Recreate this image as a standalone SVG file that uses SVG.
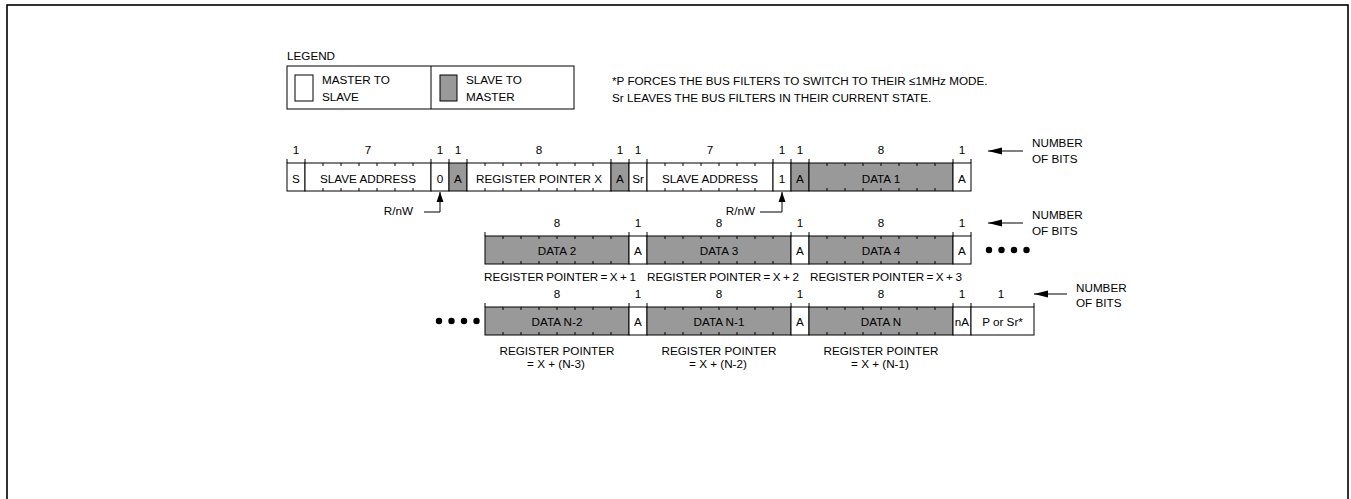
<svg xmlns="http://www.w3.org/2000/svg" width="1351" height="499" viewBox="0 0 1351 499">
<style>
text{font-family:"Liberation Sans",Arial,sans-serif;font-size:11.7px;fill:#000}
.c{text-anchor:middle}
.r{text-anchor:end}
.w{fill:#fff;stroke:#000;stroke-width:1}
.g{fill:#999;stroke:#000;stroke-width:1}
.t{fill:none;stroke:#000;stroke-width:1}
.ln{fill:none;stroke:#000;stroke-width:1}
.dot{fill:#000}
.rp{word-spacing:-0.8px}
</style>
<defs>
<marker id="ah" viewBox="0 0 10 10" refX="10" refY="5" markerWidth="10" markerHeight="10" markerUnits="userSpaceOnUse" orient="auto"><path d="M0,1.5L10,5L0,8.5Z" fill="#000"/></marker>
<marker id="ahL" viewBox="0 0 14 8" refX="14" refY="4" markerWidth="14" markerHeight="8" markerUnits="userSpaceOnUse" orient="auto"><path d="M0,0.5L14,4L0,7.5Z" fill="#000"/></marker>
</defs>
<rect x="7" y="5" width="1341" height="600" fill="none" stroke="#000" stroke-width="1.6"/>

<g id="legend">
<text x="287" y="60">LEGEND</text>
<rect x="287" y="66" width="287" height="43" fill="#fff" stroke="#000" stroke-width="1"/>
<line x1="431" y1="66" x2="431" y2="109" stroke="#000" stroke-width="1"/>
<rect x="295" y="75" width="18" height="26" class="w"/>
<text x="322" y="83.5">MASTER TO</text>
<text x="322" y="100.5">SLAVE</text>
<rect x="440" y="75" width="17" height="26" class="g"/>
<text x="466" y="83.5">SLAVE TO</text>
<text x="466" y="100.5">MASTER</text>
</g>
<g id="note">
<text x="612" y="85">*P FORCES THE BUS FILTERS TO SWITCH TO THEIR ≤1MHz MODE.</text>
<text x="612" y="101.5">Sr LEAVES THE BUS FILTERS IN THEIR CURRENT STATE.</text>
</g>

<!-- Row 1 -->
<g id="row1-bits">
<text class="c" x="296" y="154">1</text>
<text class="c" x="368" y="154">7</text>
<text class="c" x="440" y="154">1</text>
<text class="c" x="458" y="154">1</text>
<text class="c" x="539" y="154">8</text>
<text class="c" x="620" y="154">1</text>
<text class="c" x="638" y="154">1</text>
<text class="c" x="710" y="154">7</text>
<text class="c" x="782" y="154">1</text>
<text class="c" x="800" y="154">1</text>
<text class="c" x="881" y="154">8</text>
<text class="c" x="962" y="154">1</text>
</g>
<g id="r1-s"><rect class="w" x="287" y="163" width="18" height="28"/><text class="c" x="296" y="182.5">S</text></g>
<g id="r1-addr"><rect class="w" x="305" y="163" width="126" height="28"/><path class="t" d="M323 163v3M341 163v3M359 163v3M377 163v3M395 163v3M413 163v3M323 191v-3M341 191v-3M359 191v-3M377 191v-3M395 191v-3M413 191v-3"/><text class="c" x="368" y="182.5">SLAVE ADDRESS</text></g>
<g id="r1-rw"><rect class="w" x="431" y="163" width="18" height="28"/><text class="c" x="440" y="182.5">0</text></g>
<g id="r1-a1"><rect class="g" x="449" y="163" width="18" height="28"/><text class="c" x="458" y="182.5">A</text></g>
<g id="r1-reg"><rect class="w" x="467" y="163" width="144" height="28"/><path class="t" d="M485 163v3M503 163v3M521 163v3M539 163v3M557 163v3M575 163v3M593 163v3M485 191v-3M503 191v-3M521 191v-3M539 191v-3M557 191v-3M575 191v-3M593 191v-3"/><text class="c" x="539" y="182.5">REGISTER POINTER X</text></g>
<g id="r1-a2"><rect class="g" x="611" y="163" width="18" height="28"/><text class="c" x="620" y="182.5">A</text></g>
<g id="r1-sr"><rect class="w" x="629" y="163" width="18" height="28"/><text class="c" x="638" y="182.5">Sr</text></g>
<g id="r1-addr2"><rect class="w" x="647" y="163" width="126" height="28"/><path class="t" d="M665 163v3M683 163v3M701 163v3M719 163v3M737 163v3M755 163v3M665 191v-3M683 191v-3M701 191v-3M719 191v-3M737 191v-3M755 191v-3"/><text class="c" x="710" y="182.5">SLAVE ADDRESS</text></g>
<g id="r1-rw2"><rect class="w" x="773" y="163" width="18" height="28"/><text class="c" x="782" y="182.5">1</text></g>
<g id="r1-a3"><rect class="g" x="791" y="163" width="18" height="28"/><text class="c" x="800" y="182.5">A</text></g>
<g id="r1-data1"><rect class="g" x="809" y="163" width="144" height="28"/><path class="t" d="M827 163v3M845 163v3M863 163v3M881 163v3M899 163v3M917 163v3M935 163v3M827 191v-3M845 191v-3M863 191v-3M881 191v-3M899 191v-3M917 191v-3M935 191v-3"/><text class="c" x="881" y="182.5">DATA 1</text></g>
<g id="r1-a4"><rect class="w" x="953" y="163" width="18" height="28"/><text class="c" x="962" y="182.5">A</text></g>
<path class="t" d="M287 159v4M305 159v4M431 159v4M449 159v4M467 159v4M611 159v4M629 159v4M647 159v4M773 159v4M791 159v4M809 159v4M953 159v4M971 159v4"/>
<g id="r1-nb"><text x="1032" y="147">NUMBER</text><text x="1032" y="163">OF BITS</text></g>
<g id="r1-rwlabel1"><text class="r" x="413" y="215">R/nW</text></g>
<g id="r1-rwlabel2"><text class="r" x="755" y="215">R/nW</text></g>

<!-- Row 2 -->
<g id="row2-bits">
<text class="c" x="557" y="227">8</text>
<text class="c" x="638" y="227">1</text>
<text class="c" x="719" y="227">8</text>
<text class="c" x="800" y="227">1</text>
<text class="c" x="881" y="227">8</text>
<text class="c" x="962" y="227">1</text>
</g>
<g id="r2-data2"><rect class="g" x="485" y="236" width="144" height="28"/><path class="t" d="M503 236v3M521 236v3M539 236v3M557 236v3M575 236v3M593 236v3M611 236v3M503 264v-3M521 264v-3M539 264v-3M557 264v-3M575 264v-3M593 264v-3M611 264v-3"/><text class="c" x="557" y="255">DATA 2</text></g>
<g id="r2-a1"><rect class="w" x="629" y="236" width="18" height="28"/><text class="c" x="638" y="255">A</text></g>
<g id="r2-data3"><rect class="g" x="647" y="236" width="144" height="28"/><path class="t" d="M665 236v3M683 236v3M701 236v3M719 236v3M737 236v3M755 236v3M773 236v3M665 264v-3M683 264v-3M701 264v-3M719 264v-3M737 264v-3M755 264v-3M773 264v-3"/><text class="c" x="719" y="255">DATA 3</text></g>
<g id="r2-a2"><rect class="w" x="791" y="236" width="18" height="28"/><text class="c" x="800" y="255">A</text></g>
<g id="r2-data4"><rect class="g" x="809" y="236" width="144" height="28"/><path class="t" d="M827 236v3M845 236v3M863 236v3M881 236v3M899 236v3M917 236v3M935 236v3M827 264v-3M845 264v-3M863 264v-3M881 264v-3M899 264v-3M917 264v-3M935 264v-3"/><text class="c" x="881" y="255">DATA 4</text></g>
<g id="r2-a3"><rect class="w" x="953" y="236" width="18" height="28"/><text class="c" x="962" y="255">A</text></g>
<path class="t" d="M485 232v4M629 232v4M647 232v4M791 232v4M809 232v4M953 232v4M971 232v4"/>
<g id="r2-dots"><circle class="dot" cx="989" cy="250" r="3.2"/><circle class="dot" cx="1001.5" cy="250" r="3.2"/><circle class="dot" cx="1014" cy="250" r="3.2"/><circle class="dot" cx="1026.5" cy="250" r="3.2"/></g>
<g id="r2-labels">
<text class="rp" x="484" y="281">REGISTER POINTER = X + 1</text>
<text class="rp" x="647" y="281">REGISTER POINTER = X + 2</text>
<text class="rp" x="810" y="281">REGISTER POINTER = X + 3</text>
</g>
<g id="r2-nb"><text x="1032" y="219">NUMBER</text><text x="1032" y="235">OF BITS</text></g>

<!-- Row 3 -->
<g id="row3-bits">
<text class="c" x="557" y="298">8</text>
<text class="c" x="638" y="298">1</text>
<text class="c" x="719" y="298">8</text>
<text class="c" x="800" y="298">1</text>
<text class="c" x="881" y="298">8</text>
<text class="c" x="962" y="298">1</text>
<text class="c" x="1001" y="298">1</text>
</g>
<g id="r3-dots"><circle class="dot" cx="439" cy="321" r="3.2"/><circle class="dot" cx="451.5" cy="321" r="3.2"/><circle class="dot" cx="464" cy="321" r="3.2"/><circle class="dot" cx="476.5" cy="321" r="3.2"/></g>
<g id="r3-datan2"><rect class="g" x="485" y="307" width="144" height="28"/><path class="t" d="M503 307v3M521 307v3M539 307v3M557 307v3M575 307v3M593 307v3M611 307v3M503 335v-3M521 335v-3M539 335v-3M557 335v-3M575 335v-3M593 335v-3M611 335v-3"/><text class="c" x="557" y="326">DATA N-2</text></g>
<g id="r3-a1"><rect class="w" x="629" y="307" width="18" height="28"/><text class="c" x="638" y="326">A</text></g>
<g id="r3-datan1"><rect class="g" x="647" y="307" width="144" height="28"/><path class="t" d="M665 307v3M683 307v3M701 307v3M719 307v3M737 307v3M755 307v3M773 307v3M665 335v-3M683 335v-3M701 335v-3M719 335v-3M737 335v-3M755 335v-3M773 335v-3"/><text class="c" x="719" y="326">DATA N-1</text></g>
<g id="r3-a2"><rect class="w" x="791" y="307" width="18" height="28"/><text class="c" x="800" y="326">A</text></g>
<g id="r3-datan"><rect class="g" x="809" y="307" width="144" height="28"/><path class="t" d="M827 307v3M845 307v3M863 307v3M881 307v3M899 307v3M917 307v3M935 307v3M827 335v-3M845 335v-3M863 335v-3M881 335v-3M899 335v-3M917 335v-3M935 335v-3"/><text class="c" x="881" y="326">DATA N</text></g>
<g id="r3-na"><rect class="w" x="953" y="307" width="18" height="28"/><text class="c" x="962" y="326">nA</text></g>
<g id="r3-p"><rect class="w" x="971" y="307" width="63" height="28"/><text class="c" x="1002.5" y="326">P or Sr*</text></g>
<path class="t" d="M485 303v4M629 303v4M647 303v4M791 303v4M809 303v4M953 303v4M971 303v4M1034 303v4"/>
<g id="r3-labels">
<text class="c" x="557" y="355">REGISTER POINTER</text><text class="c" x="556" y="368">= X + (N-3)</text>
<text class="c" x="719" y="355">REGISTER POINTER</text><text class="c" x="718" y="368">= X + (N-2)</text>
<text class="c" x="881" y="355">REGISTER POINTER</text><text class="c" x="880" y="368">= X + (N-1)</text>
</g>
<g id="r3-nb"><text x="1076" y="291.5">NUMBER</text><text x="1076" y="307">OF BITS</text></g>

<g id="connectors">
<path class="ln" d="M424 212H440V192" marker-end="url(#ah)"/>
<path class="ln" d="M760 212H782V192" marker-end="url(#ah)"/>
<path class="ln" d="M1023 151H988" marker-end="url(#ahL)"/>
<path class="ln" d="M1023 223H988" marker-end="url(#ahL)"/>
<path class="ln" d="M1067 294H1034" marker-end="url(#ahL)"/>
</g>
</svg>
